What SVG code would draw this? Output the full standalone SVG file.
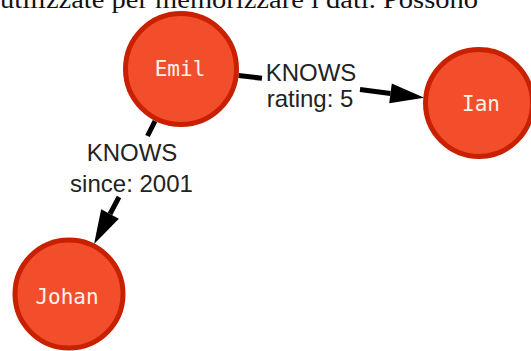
<svg xmlns="http://www.w3.org/2000/svg" width="531" height="351" viewBox="0 0 531 351">
  <style>
    .node circle { fill: #F34E2B; stroke: #C82000; stroke-width: 5; }
    .node text { font-family: "DejaVu Sans Mono", monospace; font-size: 21px; fill: #FFF3EA; text-anchor: middle; }
    .edge line { stroke: #000; stroke-width: 5; }
    .lbl { font-family: "Liberation Sans", Arial, sans-serif; font-size: 24px; fill: #222; text-anchor: middle; }
    .top { font-family: "Liberation Serif", "Times New Roman", serif; font-size: 26px; fill: #111; }
  </style>
  <defs>
    <marker id="arrow" markerUnits="userSpaceOnUse" markerWidth="36" markerHeight="22" viewBox="0 -11 36 22" refX="0" refY="0" orient="auto" overflow="visible">
      <path d="M0,-10 L34,0 L0,10 Z" fill="#000"/>
    </marker>
  </defs>
  <rect width="531" height="351" fill="#fff"/>
  <text class="top" x="0" y="8" textLength="478" lengthAdjust="spacingAndGlyphs">utilizzate per memorizzare i dati. Possono</text>
  <g id="connectors">
    <g class="edge" id="emil-ian">
      <line x1="238.6" y1="75.6" x2="262" y2="78.3"/>
      <line x1="360" y1="89.4" x2="390.5" y2="93.4" marker-end="url(#arrow)"/>
      <text class="lbl" x="311" y="81">KNOWS</text>
      <text class="lbl" x="310" y="107">rating: 5</text>
    </g>
    <g class="edge" id="emil-johan">
      <line x1="155" y1="121" x2="147.5" y2="136"/>
      <line x1="119" y1="197" x2="110" y2="214" marker-end="url(#arrow)"/>
      <text class="lbl" x="132" y="161">KNOWS</text>
      <text class="lbl" x="131.5" y="192">since: 2001</text>
    </g>
  </g>
  <g class="node" id="emil">
    <circle cx="181" cy="69" r="55.5"/>
    <text x="180" y="76">Emil</text>
  </g>
  <g class="node" id="ian">
    <circle cx="479" cy="103" r="53.5"/>
    <text x="481" y="111">Ian</text>
  </g>
  <g class="node" id="johan">
    <circle cx="69" cy="294" r="54"/>
    <text x="67" y="304">Johan</text>
  </g>
</svg>
